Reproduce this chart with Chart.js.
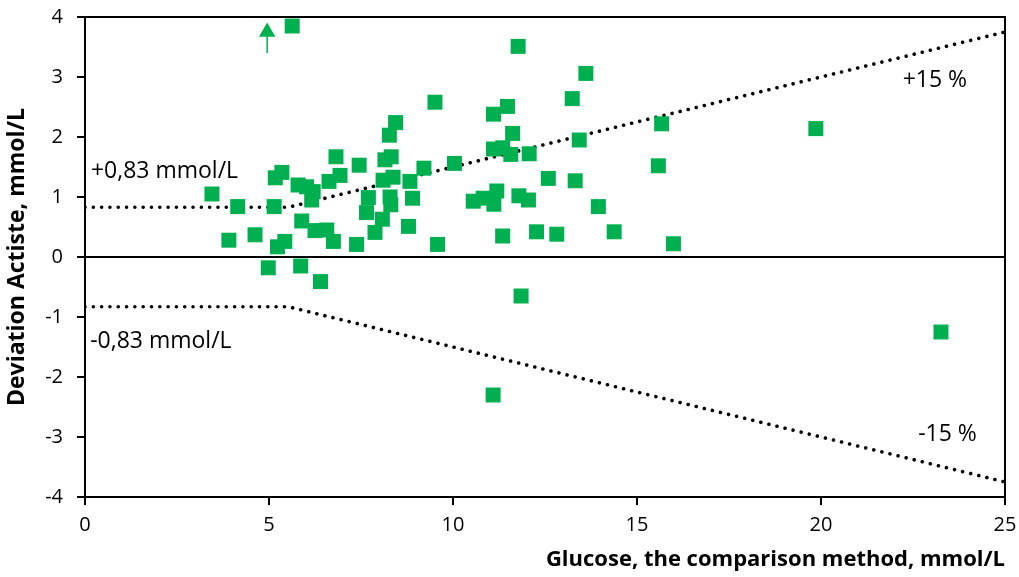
<!DOCTYPE html>
<html>
<head>
<meta charset="utf-8">
<script src="https://cdn.jsdelivr.net/npm/chart.js@4/dist/chart.umd.min.js"></script>
<style>
    html, body { margin: 0; padding: 0; background: #fff; }
    #chart { display: block; }
</style>
</head>
<body>
<canvas id="chart" width="1019" height="577"></canvas>
<script>
// Glucose from the comparison method (x) vs. deviation of Actiste (y), mmol/L
const glucose = [
    3.45, 3.91, 4.15, 4.62, 4.98, 5.17, 5.14, 5.23, 5.35, 5.43,
    5.63, 5.79, 5.86, 5.89, 6.02, 6.16, 6.20, 6.25, 6.40, 6.57,
    6.63, 6.75, 6.82, 6.93, 7.38, 7.45, 7.65, 7.70, 7.88, 8.08,
    8.10, 8.15, 8.27, 8.29, 8.31, 8.32, 8.44, 8.37, 8.79, 8.83,
    8.90, 9.21, 9.51, 9.58, 10.04, 10.55, 10.82, 11.19, 11.10, 11.10,
    11.11, 11.09, 11.35, 11.35, 11.48, 11.57, 11.62, 11.77, 11.79, 11.85,
    12.07, 12.05, 12.27, 12.59, 12.82, 13.24, 13.32, 13.43, 13.61, 13.95,
    14.38, 15.58, 15.67, 15.99, 19.86, 23.26
];
const deviation = [
    1.05, 0.28, 0.84, 0.37, -0.18, 1.32, 0.84, 0.17, 1.41, 0.26,
    3.85, 1.20, -0.15, 0.60, 1.17, 0.95, 1.09, 0.44, -0.41, 0.45,
    1.26, 0.26, 1.67, 1.36, 0.21, 1.53, 0.74, 0.99, 0.41, 0.63,
    1.28, 1.62, 2.03, 1.00, 0.87, 1.67, 2.24, 1.33, 0.51, 1.26,
    0.98, 1.48, 2.58, 0.21, 1.56, 0.93, 0.98, 1.10, 2.38, 1.80,
    0.88, -2.30, 1.82, 0.35, 2.51, 1.71, 2.06, 3.51, 1.02, -0.65,
    1.72, 0.95, 0.42, 1.31, 0.38, 2.64, 1.27, 1.95, 3.06, 0.84,
    0.42, 1.52, 2.22, 0.22, 2.14, -1.25
];

// acceptance limits: ±0,83 mmol/L below 5,53 mmol/L, ±15 % above
const limitX = [0, 5.53, 25];
const upperLimit = [0.83, 0.83, 3.75];
const lowerLimit = [-0.83, -0.83, -3.75];

// off-scale point marker (arrow)
const arrowX = [4.95, 4.95];
const arrowY = [3.40, 3.70];
const arrowHeadY = 3.75;

const xTicks = [0, 5, 10, 15, 20, 25];
const yTicks = [-4, -3, -2, -1, 0, 1, 2, 3, 4];

const notes = [
    { text: "+0,83 mmol/L", x: 0.16, y: 1.32 },
    { text: "-0,83 mmol/L", x: 0.14, y: -1.52 },
    { text: "+15 %", x: 22.22, y: 2.83 },
    { text: "-15 %", x: 22.64, y: -3.07 }
];

const FONT = "'Open Sans', sans-serif";
const GREEN = "#00b050";

const toPoints = (xs, ys) => xs.map((x, i) => ({ x: x, y: ys[i] }));

const framePlugin = {
    id: "frame",
    beforeDatasetsDraw(chart) {
        const { ctx, chartArea: a } = chart;
        ctx.save();
        ctx.strokeStyle = "#000";
        ctx.lineWidth = 2;
        ctx.beginPath();
        ctx.moveTo(a.left, a.top);
        ctx.lineTo(a.right, a.top);
        ctx.lineTo(a.right, a.bottom);
        ctx.stroke();
        ctx.restore();
    },
    afterDatasetsDraw(chart) {
        const { ctx, scales } = chart;
        ctx.save();
        ctx.fillStyle = "#000";
        ctx.font = "23px " + FONT;
        ctx.textAlign = "left";
        ctx.textBaseline = "alphabetic";
        notes.forEach(n => {
            ctx.fillText(n.text, scales.x.getPixelForValue(n.x), scales.y.getPixelForValue(n.y));
        });
        ctx.restore();
    }
};

new Chart(document.getElementById("chart"), {
    type: "scatter",
    data: {
        datasets: [
            {
                label: "Deviation",
                data: toPoints(glucose, deviation),
                pointStyle: "rect",
                pointRadius: 10.6,
                pointHoverRadius: 10.6,
                backgroundColor: GREEN,
                borderColor: GREEN,
                borderWidth: 0,
                order: 0
            },
            {
                label: "Off scale",
                type: "line",
                data: toPoints(arrowX, arrowY),
                borderColor: GREEN,
                borderWidth: 1.5,
                pointRadius: 0,
                order: 1
            },
            {
                label: "Off scale head",
                data: [{ x: arrowX[0], y: arrowHeadY }],
                pointStyle: "triangle",
                pointRadius: 9.5,
                backgroundColor: GREEN,
                borderWidth: 0,
                order: 1
            },
            {
                label: "Upper limit",
                type: "line",
                data: toPoints(limitX, upperLimit),
                borderColor: "#000",
                borderWidth: 3.6,
                borderDash: [0.01, 8.3],
                borderCapStyle: "round",
                pointRadius: 0,
                order: 2
            },
            {
                label: "Lower limit",
                type: "line",
                data: toPoints(limitX, lowerLimit),
                borderColor: "#000",
                borderWidth: 3.6,
                borderDash: [0.01, 8.3],
                borderCapStyle: "round",
                pointRadius: 0,
                order: 2
            },
            {
                label: "Zero",
                type: "line",
                data: [{ x: xTicks[0], y: 0 }, { x: xTicks[xTicks.length - 1], y: 0 }],
                borderColor: "#000",
                borderWidth: 2,
                pointRadius: 0,
                order: 3
            }
        ]
    },
    options: {
        responsive: false,
        animation: false,
        devicePixelRatio: 1,
        layout: { padding: { top: 17, right: 14, left: 0, bottom: 0 } },
        plugins: { legend: { display: false }, tooltip: { enabled: false } },
        scales: {
            x: {
                type: "linear",
                min: 0, max: 25,
                afterBuildTicks: s => { s.ticks = xTicks.map(v => ({ value: v })); },
                afterFit: s => { s.height = 80; s.paddingLeft = 0; s.paddingRight = 0; },
                border: { display: true, color: "#000", width: 2 },
                grid: { drawOnChartArea: false, drawTicks: true, tickLength: 8, color: "#000", lineWidth: 2 },
                ticks: { color: "#000", padding: 8, font: { family: FONT, size: 20 } },
                title: {
                    display: true,
                    text: "Glucose, the comparison method, mmol/L",
                    align: "end",
                    color: "#000",
                    padding: { top: 0, bottom: 4 },
                    font: { family: FONT, size: 22, weight: "bold" }
                }
            },
            y: {
                type: "linear",
                min: -4, max: 4,
                afterBuildTicks: s => { s.ticks = yTicks.map(v => ({ value: v })); },
                afterFit: s => { s.width = 85; s.paddingTop = 0; s.paddingBottom = 0; },
                border: { display: true, color: "#000", width: 2 },
                grid: { drawOnChartArea: false, drawTicks: true, tickLength: 8, color: "#000", lineWidth: 2 },
                ticks: { color: "#000", padding: 14, font: { family: FONT, size: 20 } },
                title: {
                    display: true,
                    text: "Deviation Actiste, mmol/L",
                    color: "#000",
                    padding: { top: 4, bottom: 0 },
                    font: { family: FONT, size: 23, weight: "bold" }
                }
            }
        }
    },
    plugins: [framePlugin]
});
</script>
</body>
</html>
